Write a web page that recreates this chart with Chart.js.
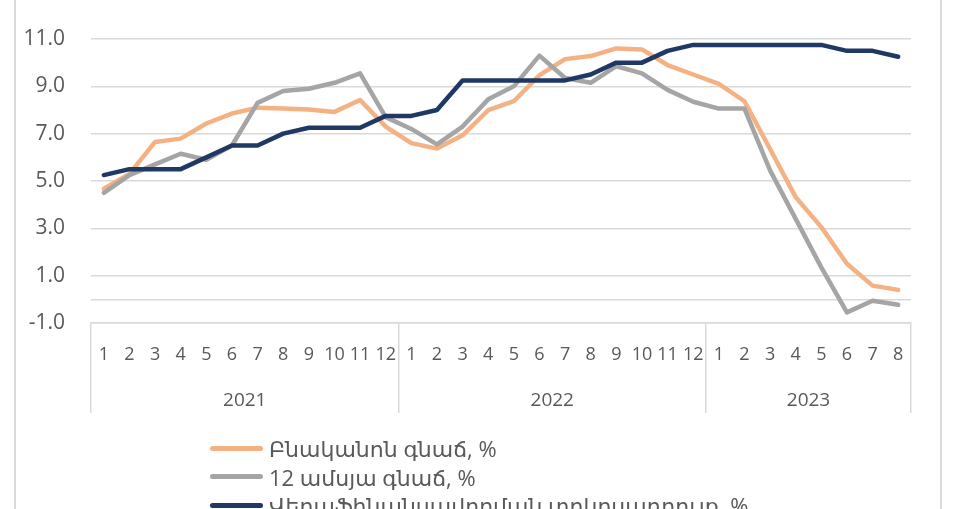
<!DOCTYPE html>
<html>
<head>
<meta charset="utf-8">
<script src="https://cdn.jsdelivr.net/npm/chart.js@4"></script>
<style>
html,body{margin:0;padding:0;background:#fff;overflow:hidden;}
#wrap{position:relative;width:962px;height:509px;overflow:hidden;}
#frame{position:absolute;left:14px;top:0;width:928px;height:509px;border-left:2px solid #d9d9d9;border-right:2px solid #d9d9d9;box-sizing:border-box;}
canvas{position:absolute;left:0;top:0;}
#legend{position:absolute;left:210px;top:434px;font-family:"Open Sans","DejaVu Sans",sans-serif;font-size:22px;color:#595959;white-space:nowrap;}
.item{display:flex;align-items:center;height:28.5px;}
.sw{width:53px;height:5px;border-radius:3px;margin-right:6px;flex:none;}
</style>
</head>
<body>
<div id="wrap">
<div id="frame"></div>
<canvas id="c" width="962" height="509"></canvas>
<div id="legend"></div>
</div>
<script>
// ---- data ----
const months = ['1','2','3','4','5','6','7','8','9','10','11','12',
                '1','2','3','4','5','6','7','8','9','10','11','12',
                '1','2','3','4','5','6','7','8'];
const yearLabels = ['2021','2022','2023'];
const yearLengths = [12, 12, 8];
const seriesNames = ['Բնականոն գնաճ, %', '12 ամսյա գնաճ, %', 'Վերաֆինանսավորման տոկոսադրույք, %'];
const coreInflation = [4.67, 5.3, 6.65, 6.79, 7.43, 7.85, 8.1, 8.06, 8.02, 7.92, 8.42, 7.3,
                       6.6, 6.37, 6.93, 7.99, 8.37, 9.47, 10.15, 10.28, 10.6, 10.56, 9.9, 9.5,
                       9.1, 8.37, 6.35, 4.32, 3.05, 1.5, 0.58, 0.4];
const annualInflation = [4.5, 5.25, 5.7, 6.15, 5.9, 6.5, 8.3, 8.8, 8.9, 9.15, 9.55, 7.7,
                         7.2, 6.55, 7.3, 8.45, 9.0, 10.3, 9.35, 9.15, 9.85, 9.55, 8.85, 8.35,
                         8.06, 8.06, 5.45, 3.4, 1.35, -0.55, -0.06, -0.23];
const refinancingRate = [5.25, 5.5, 5.5, 5.5, 6.0, 6.5, 6.5, 7.0, 7.25, 7.25, 7.25, 7.75,
                         7.75, 8.0, 9.25, 9.25, 9.25, 9.25, 9.25, 9.5, 10.0, 10.0, 10.5, 10.75,
                         10.75, 10.75, 10.75, 10.75, 10.75, 10.5, 10.5, 10.25];
const yTicks = [-1, 0, 1, 3, 5, 7, 9, 11];
const seriesColors = ['#f4b183', '#a5a5a5', '#1f3864'];

// ---- derived year-axis ticks ----
const yearBounds = [0];
const yearCenters = {};
yearLengths.forEach((n, i) => {
  const start = yearBounds[yearBounds.length - 1];
  yearCenters[start + n / 2] = yearLabels[i];
  yearBounds.push(start + n);
});
const yearTickValues = [...yearBounds, ...Object.keys(yearCenters).map(Number)].sort((a, b) => a - b);

const FONT = '"Open Sans", "DejaVu Sans", sans-serif';
const GRID = '#d9d9d9';
const TXT = '#595959';
const CLEAR = 'rgba(0,0,0,0)';

const series = [coreInflation, annualInflation, refinancingRate];
const datasets = series.map((d, i) => ({
  label: seriesNames[i],
  data: d,
  borderColor: seriesColors[i],
  backgroundColor: seriesColors[i],
  borderWidth: 4.5,
  pointRadius: 0,
  tension: 0,
  fill: false,
  borderCapStyle: 'round',
  borderJoinStyle: 'round',
  order: 2 - i
}));

const chart = new Chart(document.getElementById('c'), {
  type: 'line',
  data: { labels: months, datasets },
  options: {
    responsive: false,
    animation: false,
    layout: { padding: { left: 15, right: 51, top: 39, bottom: 96 } },
    plugins: { legend: { display: false }, tooltip: { enabled: false } },
    scales: {
      y: {
        type: 'linear',
        min: -1, max: 11,
        afterBuildTicks: s => { s.ticks = yTicks.map(v => ({ value: v })); },
        afterFit: s => { s.width = 76; },
        ticks: {
          callback: v => v === 0 ? '' : v.toFixed(1),
          font: { size: 21, family: FONT },
          color: TXT,
          padding: 26
        },
        grid: { color: GRID, lineWidth: 1.5, drawTicks: false },
        border: { display: false }
      },
      x: {
        type: 'category',
        position: 'bottom',
        offset: true,
        weight: 0,
        afterFit: s => { s.height = 52; },
        grid: {
          offset: true,
          drawOnChartArea: false,
          tickLength: 52,
          lineWidth: 1.5,
          color: c => (c.index === undefined || yearBounds.includes(c.index)) ? GRID : CLEAR
        },
        border: { display: true, color: GRID, width: 1.5 },
        ticks: {
          autoSkip: false, maxRotation: 0, minRotation: 0,
          padding: -31,
          font: { size: 18, family: FONT },
          color: TXT
        }
      },
      x2: {
        type: 'linear',
        position: 'bottom',
        weight: 1,
        min: 0, max: yearBounds[yearBounds.length - 1],
        afterBuildTicks: s => { s.ticks = yearTickValues.map(v => ({ value: v })); },
        afterFit: s => { s.height = 38; },
        grid: {
          drawOnChartArea: false,
          tickLength: 38,
          lineWidth: 1.5,
          color: c => (c.tick && yearBounds.includes(c.tick.value)) ? GRID : CLEAR
        },
        border: { display: false },
        ticks: {
          autoSkip: false, maxRotation: 0, minRotation: 0,
          padding: -24,
          callback: v => yearCenters[v] || '',
          font: { size: 19, family: FONT },
          color: TXT
        }
      }
    }
  }
});

// HTML legend built from chart datasets
const leg = document.getElementById('legend');
chart.data.datasets.forEach(ds => {
  const row = document.createElement('div');
  row.className = 'item';
  const sw = document.createElement('span');
  sw.className = 'sw';
  sw.style.background = ds.borderColor;
  const t = document.createElement('span');
  t.textContent = ds.label;
  row.appendChild(sw);
  row.appendChild(t);
  leg.appendChild(row);
});
</script>
</body>
</html>
